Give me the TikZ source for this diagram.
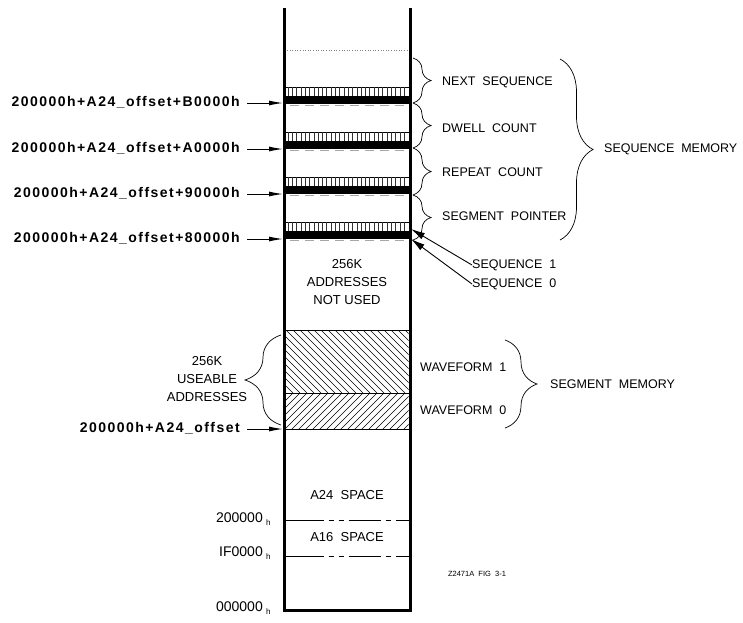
\documentclass[tikz,border=0pt]{standalone}
\usepackage{fontspec}
\setmainfont{Liberation Sans}
\newfontfamily\addrfont[LetterSpace=10.5]{Liberation Sans Bold}
\usetikzlibrary{arrows.meta,decorations.pathreplacing}
\begin{document}
\begin{tikzpicture}[x=1pt,y=-1pt,
  wall/.style={line width=3pt, line join=miter},
  addr/.style={font=\addrfont\fontsize{14}{16}\selectfont, anchor=east, inner sep=0pt},
  lbl/.style={font=\fontsize{12.5}{14}\selectfont, anchor=west, inner sep=0pt},
  ctr/.style={font=\fontsize{13}{18}\selectfont, align=center, inner sep=0pt},
  ptr/.style={-{Latex[length=14pt,width=5pt]}, line width=1pt},
  sptr/.style={-{Latex[length=14pt,width=7pt]}, line width=0.9pt},
  brc/.style={decorate, decoration={brace, amplitude=#1}, line width=0.7pt},
  thin/.style={line width=0.6pt},
  altdash/.style={line width=0.7pt, dash pattern=on 38pt off 5pt on 5pt off 5pt on 5pt off 5pt on 32pt off 5pt on 5pt off 5pt on 20pt off 1pt},
]
\useasboundingbox (0,0) rectangle (743,622);

% column
\draw[wall] (284,8) -- (284,610) -- (410,610) -- (410,8);
\draw[dotted, gray, thin] (287,50) -- (408,50);

% sequence bands
\foreach \t in {87,132,177,222}{
  \draw[line width=0.5pt] (285.5,\t) -- (408.5,\t);
  \foreach \x in {288,292.3,...,408}{
    \draw[line width=0.5pt, black!80] (\x,\t) -- (\x,\t+9);
  }
  \foreach \d in {9.8,11.9,14.0,16.1}{
    \draw[line width=1.7pt] (285.5,\t+\d) -- (408.5,\t+\d);
  }
  \draw[black!35, line width=0.6pt, dash pattern=on 9pt off 6pt] (290,\t+18.6) -- (405,\t+18.6);
}

% hatched waveform regions
\begin{scope}
  \clip (285.5,330) rectangle (408.5,393);
  \foreach \x in {286,293,...,480}{
    \draw[line width=0.5pt] (\x,393) -- (\x-80,313);
  }
\end{scope}
\begin{scope}
  \clip (285.5,393) rectangle (408.5,429);
  \foreach \x in {286,293,...,460}{
    \draw[line width=0.5pt] (\x,393) -- (\x-50,443);
  }
\end{scope}
\draw[thin] (285.5,330) -- (408.5,330);
\draw[thin] (285.5,393) -- (408.5,393);
\draw[thin] (285.5,429) -- (408.5,429);

% address labels (left)
\node[addr] (a1) at (240,102) {200000h+A24\_offset+B0000h};
\node[addr] (a2) at (240,148) {200000h+A24\_offset+A0000h};
\node[addr] (a3) at (240,193) {200000h+A24\_offset+90000h};
\node[addr] (a4) at (240,238) {200000h+A24\_offset+80000h};
\node[addr] (a5) at (240,428) {200000h+A24\_offset};
\coordinate (w1) at (283,103);
\coordinate (w2) at (283,149);
\coordinate (w3) at (283,194);
\coordinate (w4) at (283,239);
\coordinate (w5) at (283,429);
\draw[ptr] ([xshift=7pt]a1.east |- w1) -- (w1);
\draw[ptr] ([xshift=7pt]a2.east |- w2) -- (w2);
\draw[ptr] ([xshift=7pt]a3.east |- w3) -- (w3);
\draw[ptr] ([xshift=7pt]a4.east |- w4) -- (w4);
\draw[ptr] ([xshift=7pt]a5.east |- w5) -- (w5);

% small braces and field labels
\draw[brc=18pt] (413,58) -- (413,103);
\draw[brc=18pt] (413,103) -- (413,148);
\draw[brc=18pt] (413,148) -- (413,195);
\draw[brc=18pt] (413,195) -- (413,240);
\node[lbl] (f1) at (442,82) {NEXT~~SEQUENCE};
\node[lbl] (f2) at (442,128) {DWELL~~COUNT};
\node[lbl] (f3) at (442,172) {REPEAT~~COUNT};
\node[lbl] (f4) at (442,216) {SEGMENT~~POINTER};

% big brace
\draw[brc=33pt] (560,59) -- (560,240);
\node[lbl] (sm) at (604,149) {SEQUENCE~~MEMORY};

% sequence pointers
\node[lbl] (s1) at (472,265) {SEQUENCE~~1};
\node[lbl] (s0) at (472,284) {SEQUENCE~~0};
\coordinate (t1) at (411,229);
\coordinate (t0) at (411,239);
\draw[sptr] (s1.west) -- (t1);
\draw[sptr] (s0.west) -- (t0);

% not used
\node[ctr] (nu) at (347,282) {256K\\ADDRESSES\\NOT USED};

% useable addresses
\draw[brc=36pt] (281,425) -- (281,335);
\node[ctr] (ua) at (207,379) {256K\\USEABLE\\ADDRESSES};

% waveforms
\node[lbl] (wf1) at (420,367) {WAVEFORM~~1};
\node[lbl] (wf0) at (420,410) {WAVEFORM~~0};
\draw[brc=32pt] (505,340) -- (505,428);
\node[lbl] (sg) at (550,384) {SEGMENT~~MEMORY};

% lower spaces
\node[ctr] (a24) at (347,495) {A24~~SPACE};
\node[ctr] (a16) at (347,537) {A16~~SPACE};
\draw[altdash] (285.5,520) -- (408.5,520);
\draw[altdash] (285.5,556) -- (408.5,556);
\node[font=\fontsize{14}{16}\selectfont, anchor=base east, inner sep=0pt] (b2) at (263,522) {200000};
\node[font=\fontsize{8}{9}\selectfont, anchor=base west, inner sep=0pt] (h2) at (266,525) {h};
\node[font=\fontsize{14}{16}\selectfont, anchor=base east, inner sep=0pt] (b1) at (263,556) {IF0000};
\node[font=\fontsize{8}{9}\selectfont, anchor=base west, inner sep=0pt] (h1) at (266,559) {h};
\node[font=\fontsize{14}{16}\selectfont, anchor=base east, inner sep=0pt] (b0) at (263,611) {000000};
\node[font=\fontsize{8}{9}\selectfont, anchor=base west, inner sep=0pt] (h0) at (266,614) {h};

\node[font=\fontsize{7.5}{9}\selectfont, inner sep=0pt] (fig) at (477,574) {Z2471A~~FIG~~3-1};
\end{tikzpicture}
\end{document}
